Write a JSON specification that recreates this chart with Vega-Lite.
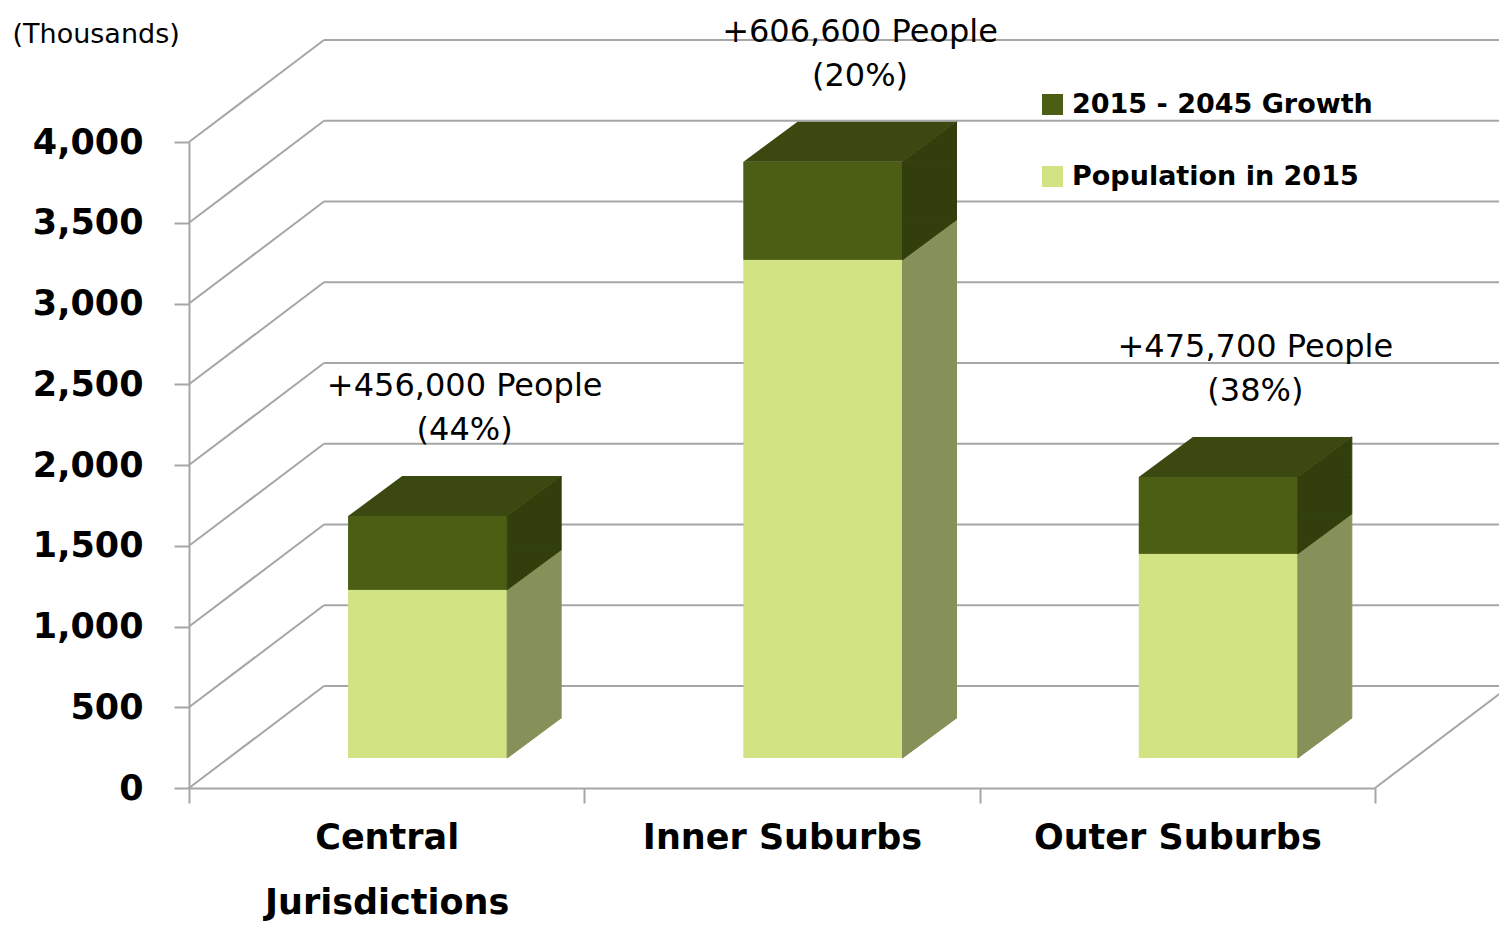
{
  "$schema": "https://vega.github.io/schema/vega-lite/v6.json",
  "width": 1186,
  "height": 646,
  "autosize": {"type": "none"},
  "padding": {"left": 189, "top": 142, "right": 124, "bottom": 139},
  "background": "white",
  "config": {"view": {"stroke": null}},
  "datasets": {
    "pop": [
      {"category": "Central Jurisdictions", "series": "Population in 2015", "order": 1, "value": 1042},
      {"category": "Central Jurisdictions", "series": "2015 - 2045 Growth", "order": 2, "value": 456, "note": "+456,000 People\n(44%)"},
      {"category": "Inner Suburbs", "series": "Population in 2015", "order": 1, "value": 3085},
      {"category": "Inner Suburbs", "series": "2015 - 2045 Growth", "order": 2, "value": 606.6, "note": "+606,600 People\n(20%)"},
      {"category": "Outer Suburbs", "series": "Population in 2015", "order": 1, "value": 1265},
      {"category": "Outer Suburbs", "series": "2015 - 2045 Growth", "order": 2, "value": 475.7, "note": "+475,700 People\n(38%)"}
    ],
    "ticks": [
      {"t": 0}, {"t": 500}, {"t": 1000}, {"t": 1500}, {"t": 2000},
      {"t": 2500}, {"t": 3000}, {"t": 3500}, {"t": 4000}
    ]
  },
  "layer": [
    {
      "data": {"name": "pop"},
      "transform": [
        {"stack": "value", "groupby": ["category"], "sort": [{"field": "order", "order": "ascending"}], "as": ["v0", "v1"]}
      ],
      "layer": [
        {
          "mark": {"type": "bar", "width": {"band": 0.402}, "xOffset": 41, "x2Offset": 41, "yOffset": -30, "y2Offset": -30},
          "encoding": {
            "x": {
              "field": "category",
              "type": "nominal",
              "sort": ["Central Jurisdictions", "Inner Suburbs", "Outer Suburbs"],
              "scale": {"domain": ["Central Jurisdictions", "Inner Suburbs", "Outer Suburbs"], "paddingInner": 0, "paddingOuter": 0},
              "axis": {
                "title": null,
                "tickBand": "extent",
                "labelAngle": 0,
                "labelFont": "DejaVu Sans",
                "labelFontWeight": "bold",
                "labelFontSize": 35,
                "labelColor": "black",
                "labelPadding": 17,
                "labelLineHeight": 65,
                "labelLimit": 0,
                "labelBaseline": "top",
                "labelExpr": "datum.label == 'Central Jurisdictions' ? ['Central', 'Jurisdictions'] : datum.label",
                "tickSize": 15,
                "tickColor": "#a6a6a6",
                "tickWidth": 2,
                "domainColor": "#a6a6a6",
                "domainWidth": 2,
                "grid": false
              }
            },
            "y": {
              "field": "v1",
              "type": "quantitative",
              "scale": {"domain": [0, 4000], "nice": false},
              "axis": {
                "values": [0, 500, 1000, 1500, 2000, 2500, 3000, 3500, 4000],
                "labelExpr": "format(datum.value, ',')",
                "title": "(Thousands)",
                "titleAngle": 0,
                "titleX": -177,
                "titleY": -100,
                "titleAlign": "left",
                "titleBaseline": "alphabetic",
                "titleFont": "DejaVu Sans",
                "titleFontSize": 27,
                "titleFontWeight": "normal",
                "titleColor": "black",
                "labelFont": "DejaVu Sans",
                "labelFontWeight": "bold",
                "labelFontSize": 35,
                "labelColor": "black",
                "labelPadding": 31,
                "tickSize": 15,
                "tickColor": "#a6a6a6",
                "tickWidth": 2,
                "domainColor": "#a6a6a6",
                "domainWidth": 2,
                "grid": false
              }
            },
            "y2": {"field": "v0"},
            "color": {
              "field": "series",
              "type": "nominal",
              "scale": {"domain": ["2015 - 2045 Growth", "Population in 2015"], "range": ["#4b5e13", "#d2e384"]},
              "legend": {
                "title": null,
                "orient": "none",
                "legendX": 850,
                "legendY": -51,
                "padding": 0,
                "symbolType": "square",
                "symbolSize": 441,
                "symbolStrokeWidth": 0,
                "symbolOpacity": 1,
                "labelFont": "DejaVu Sans",
                "labelFontWeight": "bold",
                "labelFontSize": 27,
                "labelColor": "black",
                "labelOffset": 6,
                "labelLimit": 0,
                "rowPadding": 44
              }
            }
          }
        }
      ]
    },
    {
      "data": {"name": "ticks"},
      "mark": {"type": "rule", "color": "#a6a6a6", "strokeWidth": 2, "xOffset": 135, "x2Offset": 135, "yOffset": -102},
      "encoding": {
        "x": {"value": 0},
        "x2": {"value": "width"},
        "y": {"field": "t", "type": "quantitative"}
      }
    },
    {
      "data": {"name": "ticks"},
      "mark": {"type": "rule", "color": "#a6a6a6", "strokeWidth": 2, "x2Offset": 135, "y2Offset": -102},
      "encoding": {
        "x": {"value": 0},
        "x2": {"value": 0},
        "y": {"field": "t", "type": "quantitative"},
        "y2": {"field": "t"}
      }
    },
    {
      "data": {"values": [{"t": 0}]},
      "mark": {"type": "rule", "color": "#a6a6a6", "strokeWidth": 2, "x2Offset": 135, "y2Offset": -102},
      "encoding": {
        "x": {"value": "width"},
        "x2": {"value": "width"},
        "y": {"field": "t", "type": "quantitative"},
        "y2": {"field": "t"}
      }
    },
    {
      "data": {"name": "pop"},
      "transform": [
        {"stack": "value", "groupby": ["category"], "sort": [{"field": "order", "order": "ascending"}], "as": ["v0", "v1"]}
      ],
      "layer": [
        {
          "mark": {"type": "bar", "width": {"band": 0.402}, "xOffset": 41, "x2Offset": 41, "yOffset": -30, "y2Offset": -30},
          "encoding": {
            "x": {"field": "category", "type": "nominal"},
            "y": {"field": "v1", "type": "quantitative"},
            "y2": {"field": "v0"},
            "fill": {"condition": {"test": "datum.series == 'Population in 2015'", "value": "#d2e384"}, "value": "#4b5e13"}
          }
        },
        {
          "mark": {"type": "bar", "width": {"band": 0.1366}, "xOffset": 147.5, "x2Offset": 147.5, "yOffset": -30, "y2Offset": -70, "strokeWidth": 1},
          "encoding": {
            "x": {"field": "category", "type": "nominal"},
            "y": {"field": "v1", "type": "quantitative"},
            "y2": {"field": "v0"},
            "fill": {"condition": {"test": "datum.series == 'Population in 2015'", "value": "#86915a"}, "value": "#323f0d"},
            "stroke": {"condition": {"test": "datum.series == 'Population in 2015'", "value": "#86915a"}, "value": "#323f0d"}
          }
        },
        {
          "mark": {"type": "point", "shape": "M 79.5 0 L 133.5 -40 L 133.5 0 Z", "size": 4, "filled": true, "opacity": 1, "strokeWidth": 1, "xOffset": 41, "yOffset": -30},
          "encoding": {
            "x": {"field": "category", "type": "nominal"},
            "y": {"field": "v1", "type": "quantitative"},
            "fill": {"condition": {"test": "datum.series == 'Population in 2015'", "value": "#86915a"}, "value": "#323f0d"},
            "stroke": {"condition": {"test": "datum.series == 'Population in 2015'", "value": "#86915a"}, "value": "#323f0d"}
          }
        },
        {
          "mark": {"type": "point", "shape": "M 79.5 -40 L 133.5 -40 L 79.5 0 Z", "size": 4, "filled": true, "opacity": 1, "strokeWidth": 1, "xOffset": 41, "yOffset": -30},
          "encoding": {
            "x": {"field": "category", "type": "nominal"},
            "y": {"field": "v0", "type": "quantitative"},
            "fill": {"condition": {"test": "datum.series == 'Population in 2015'", "value": "#86915a"}, "value": "#323f0d"},
            "stroke": {"condition": {"test": "datum.series == 'Population in 2015'", "value": "#86915a"}, "value": "#323f0d"}
          }
        },
        {
          "transform": [{"filter": "datum.series == '2015 - 2045 Growth'"}],
          "mark": {"type": "point", "shape": "M -79.5 0 L 79.5 0 L 133.5 -40 L -25.5 -40 Z", "size": 4, "filled": true, "opacity": 1, "strokeWidth": 0, "xOffset": 41, "yOffset": -30, "fill": "#3b4810"},
          "encoding": {
            "x": {"field": "category", "type": "nominal"},
            "y": {"field": "v1", "type": "quantitative"}
          }
        },
        {
          "transform": [{"filter": "datum.series == '2015 - 2045 Growth'"}],
          "mark": {"type": "text", "font": "DejaVu Sans", "fontSize": 32, "align": "center", "baseline": "alphabetic", "lineBreak": "\n", "lineHeight": 44, "xOffset": 78, "yOffset": -150, "color": "black"},
          "encoding": {
            "x": {"field": "category", "type": "nominal"},
            "y": {"field": "v1", "type": "quantitative"},
            "text": {"field": "note"}
          }
        }
      ]
    }
  ]
}
